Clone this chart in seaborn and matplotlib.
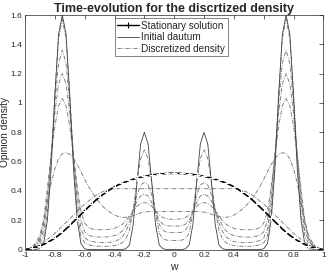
import numpy as np
import pandas as pd
import matplotlib
matplotlib.use("Agg")
import matplotlib.pyplot as plt
import seaborn as sns
from matplotlib.lines import Line2D

# grid of opinion values w
w = [-1.0, -0.975, -0.95, -0.925, -0.9, -0.875, -0.85, -0.825, -0.8, -0.775,
     -0.75, -0.725, -0.7, -0.675, -0.65, -0.625, -0.6, -0.575, -0.55, -0.525,
     -0.5, -0.475, -0.45, -0.425, -0.4, -0.375, -0.35, -0.325, -0.3, -0.275,
     -0.25, -0.225, -0.2, -0.175, -0.15, -0.125, -0.1, -0.075, -0.05, -0.025,
     0.0,
     0.025, 0.05, 0.075, 0.1, 0.125, 0.15, 0.175, 0.2, 0.225, 0.25,
     0.275, 0.3, 0.325, 0.35, 0.375, 0.4, 0.425, 0.45, 0.475, 0.5,
     0.525, 0.55, 0.575, 0.6, 0.625, 0.65, 0.675, 0.7, 0.725, 0.75,
     0.775, 0.8, 0.825, 0.85, 0.875, 0.9, 0.925, 0.95, 0.975, 1.0]

stationary = [0.0, 0.003, 0.009, 0.016, 0.025, 0.035, 0.048, 0.062, 0.078, 0.097,
              0.118, 0.14, 0.165, 0.19, 0.215, 0.24, 0.265, 0.29, 0.313, 0.337,
              0.358, 0.377, 0.395, 0.413, 0.428, 0.441, 0.452, 0.462, 0.471, 0.479,
              0.486, 0.493, 0.499, 0.504, 0.508, 0.512, 0.515, 0.517, 0.519, 0.52,
              0.52,
              0.52, 0.519, 0.517, 0.515, 0.512, 0.508, 0.504, 0.499, 0.493, 0.486,
              0.479, 0.471, 0.462, 0.452, 0.441, 0.428, 0.413, 0.395, 0.377, 0.358,
              0.337, 0.313, 0.29, 0.265, 0.24, 0.215, 0.19, 0.165, 0.14, 0.118,
              0.097, 0.078, 0.062, 0.048, 0.035, 0.025, 0.016, 0.009, 0.003, 0.0]

initial = [0.0, 0.0, 0.0, 0.002, 0.005, 0.04, 0.20, 0.55, 1.05, 1.47,
           1.60, 1.47, 1.05, 0.55, 0.20, 0.04, 0.005, 0.0, 0.0, 0.0,
           0.0, 0.0, 0.0, 0.0, 0.0, 0.0, 0.0, 0.005, 0.03, 0.17,
           0.45, 0.72, 0.80, 0.72, 0.45, 0.17, 0.03, 0.005, 0.0, 0.0,
           0.0,
           0.0, 0.0, 0.005, 0.03, 0.17, 0.45, 0.72, 0.80, 0.72, 0.45,
           0.17, 0.03, 0.005, 0.0, 0.0, 0.0, 0.0, 0.0, 0.0, 0.0,
           0.0, 0.0, 0.0, 0.005, 0.04, 0.20, 0.55, 1.05, 1.47, 1.60,
           1.47, 1.05, 0.55, 0.20, 0.04, 0.005, 0.002, 0.0, 0.0, 0.0]

disc_1 = [0.0, 0.005, 0.012, 0.025, 0.045, 0.09, 0.25, 0.60, 1.06, 1.44,
          1.57, 1.44, 1.06, 0.60, 0.25, 0.09, 0.045, 0.033, 0.027, 0.024,
          0.022, 0.022, 0.022, 0.024, 0.027, 0.033, 0.045, 0.07, 0.13, 0.27,
          0.46, 0.62, 0.68, 0.62, 0.46, 0.25, 0.11, 0.072, 0.064, 0.062,
          0.062,
          0.062, 0.064, 0.072, 0.11, 0.25, 0.46, 0.62, 0.68, 0.62, 0.46,
          0.27, 0.13, 0.07, 0.045, 0.033, 0.027, 0.024, 0.022, 0.022, 0.022,
          0.024, 0.027, 0.033, 0.045, 0.09, 0.25, 0.60, 1.06, 1.44, 1.57,
          1.44, 1.06, 0.60, 0.25, 0.09, 0.045, 0.025, 0.012, 0.005, 0.0]

disc_2 = [0.0, 0.006, 0.015, 0.03, 0.06, 0.13, 0.32, 0.64, 1.00, 1.27,
          1.36, 1.27, 1.00, 0.64, 0.32, 0.14, 0.08, 0.062, 0.055, 0.05,
          0.048, 0.047, 0.048, 0.05, 0.055, 0.065, 0.085, 0.12, 0.18, 0.27,
          0.37, 0.44, 0.458, 0.44, 0.37, 0.26, 0.17, 0.13, 0.118, 0.115,
          0.115,
          0.115, 0.118, 0.13, 0.17, 0.26, 0.37, 0.44, 0.458, 0.44, 0.37,
          0.27, 0.18, 0.12, 0.085, 0.065, 0.055, 0.05, 0.048, 0.047, 0.048,
          0.05, 0.055, 0.062, 0.08, 0.14, 0.32, 0.64, 1.00, 1.27, 1.36,
          1.27, 1.00, 0.64, 0.32, 0.13, 0.06, 0.03, 0.015, 0.006, 0.0]

disc_3 = [0.0, 0.007, 0.018, 0.035, 0.07, 0.17, 0.37, 0.65, 0.93, 1.13,
          1.20, 1.13, 0.93, 0.65, 0.38, 0.20, 0.12, 0.098, 0.09, 0.086,
          0.085, 0.085, 0.086, 0.09, 0.095, 0.105, 0.125, 0.16, 0.21, 0.27,
          0.33, 0.365, 0.378, 0.365, 0.32, 0.255, 0.20, 0.172, 0.163, 0.16,
          0.16,
          0.16, 0.163, 0.172, 0.20, 0.255, 0.32, 0.365, 0.378, 0.365, 0.33,
          0.27, 0.21, 0.16, 0.125, 0.105, 0.095, 0.09, 0.086, 0.085, 0.085,
          0.086, 0.09, 0.098, 0.12, 0.20, 0.38, 0.65, 0.93, 1.13, 1.20,
          1.13, 0.93, 0.65, 0.37, 0.17, 0.07, 0.035, 0.018, 0.007, 0.0]

disc_4 = [0.0, 0.008, 0.02, 0.04, 0.08, 0.20, 0.42, 0.64, 0.84, 0.98,
          1.03, 0.98, 0.84, 0.64, 0.43, 0.26, 0.18, 0.15, 0.14, 0.136,
          0.135, 0.135, 0.136, 0.14, 0.145, 0.155, 0.17, 0.195, 0.23, 0.265,
          0.295, 0.315, 0.32, 0.315, 0.295, 0.26, 0.235, 0.218, 0.21, 0.207,
          0.206,
          0.207, 0.21, 0.218, 0.235, 0.26, 0.295, 0.315, 0.32, 0.315, 0.295,
          0.265, 0.23, 0.195, 0.17, 0.155, 0.145, 0.14, 0.136, 0.135, 0.135,
          0.136, 0.14, 0.15, 0.18, 0.26, 0.43, 0.64, 0.84, 0.98, 1.03,
          0.98, 0.84, 0.64, 0.42, 0.20, 0.08, 0.04, 0.02, 0.008, 0.0]

disc_5 = [0.0, 0.005, 0.02, 0.05, 0.10, 0.20, 0.32, 0.45, 0.55, 0.62,
          0.655, 0.66, 0.65, 0.62, 0.58, 0.53, 0.48, 0.43, 0.39, 0.35,
          0.32, 0.29, 0.27, 0.25, 0.235, 0.225, 0.22, 0.22, 0.225, 0.23,
          0.24, 0.25, 0.255, 0.258, 0.26, 0.26, 0.26, 0.26, 0.259, 0.259,
          0.259,
          0.259, 0.259, 0.26, 0.26, 0.26, 0.26, 0.258, 0.255, 0.25, 0.24,
          0.23, 0.225, 0.22, 0.22, 0.225, 0.235, 0.25, 0.27, 0.29, 0.32,
          0.35, 0.39, 0.43, 0.48, 0.53, 0.58, 0.62, 0.65, 0.66, 0.655,
          0.62, 0.55, 0.45, 0.32, 0.20, 0.10, 0.05, 0.02, 0.005, 0.0]

disc_6 = [0.0, 0.003, 0.01, 0.02, 0.035, 0.05, 0.07, 0.09, 0.11, 0.135,
          0.16, 0.185, 0.21, 0.235, 0.26, 0.285, 0.31, 0.33, 0.35, 0.37,
          0.385, 0.397, 0.405, 0.41, 0.413, 0.415, 0.415, 0.415, 0.415, 0.415,
          0.415, 0.415, 0.415, 0.415, 0.415, 0.415, 0.415, 0.415, 0.415, 0.415,
          0.415,
          0.415, 0.415, 0.415, 0.415, 0.415, 0.415, 0.415, 0.415, 0.415, 0.415,
          0.415, 0.415, 0.415, 0.415, 0.415, 0.413, 0.41, 0.405, 0.397, 0.385,
          0.37, 0.35, 0.33, 0.31, 0.285, 0.26, 0.235, 0.21, 0.185, 0.16,
          0.135, 0.11, 0.09, 0.07, 0.05, 0.035, 0.02, 0.01, 0.003, 0.0]

x_ticks = [-1, -0.8, -0.6, -0.4, -0.2, 0, 0.2, 0.4, 0.6, 0.8, 1]
x_tick_labels = ["-1", "-0.8", "-0.6", "-0.4", "-0.2", "0", "0.2", "0.4", "0.6", "0.8", "1"]
y_ticks = [0, 0.2, 0.4, 0.6, 0.8, 1, 1.2, 1.4, 1.6]
y_tick_labels = ["0", "0.2", "0.4", "0.6", "0.8", "1", "1.2", "1.4", "1.6"]

sns.set_style("white")
plt.rcParams['font.family'] = ['Liberation Sans', 'DejaVu Sans']

fig = plt.figure(figsize=(3.27, 2.73), dpi=100)
ax = fig.add_axes([0.0765, 0.086, 0.9125, 0.859])

dash_style = (0, (5, 1.8, 1, 1.8))
disc_color = "#707070"
for series in [disc_1, disc_2, disc_3, disc_4, disc_5, disc_6]:
    sns.lineplot(x=w, y=series, ax=ax, color=disc_color, linewidth=0.6,
                 linestyle=dash_style, sort=False, legend=False)

sns.lineplot(x=w, y=initial, ax=ax, color="#404040", linewidth=0.6,
             sort=False, legend=False)
sns.lineplot(x=w, y=stationary, ax=ax, color="black", linewidth=1.2,
             marker="+", markersize=4, markeredgewidth=0.8, markevery=2,
             sort=False, legend=False)

ax.set_xlim(-1, 1)
ax.set_ylim(0, 1.6)
ax.set_xticks(x_ticks)
ax.set_xticklabels(x_tick_labels)
ax.set_yticks(y_ticks)
ax.set_yticklabels(y_tick_labels)
ax.tick_params(direction="in", length=3, width=0.5, labelsize=6,
               top=True, right=True, colors="#262626", pad=2)
for sp in ax.spines.values():
    sp.set_visible(True)
    sp.set_linewidth(0.5)
    sp.set_color("#262626")

ax.set_xlabel("w", fontsize=7.5, labelpad=2)
ax.set_ylabel("Opinion density", fontsize=7.3)
ax.yaxis.set_label_coords(-0.05, 0.5)
ax.set_title("Time-evolution for the discrtized density", fontsize=9,
             fontweight="bold", pad=2.5)

handles = [
    Line2D([], [], color="black", linewidth=1.0, marker="+", markersize=4,
           markeredgewidth=0.8),
    Line2D([], [], color="#404040", linewidth=0.6),
    Line2D([], [], color=disc_color, linewidth=0.6, linestyle=dash_style),
]
leg = ax.legend(handles, ["Stationary solution", "Initial dautum", "Discretized density"],
                loc="upper center", bbox_to_anchor=(0.49, 0.995), fontsize=7.2,
                frameon=True, fancybox=False, edgecolor="#262626",
                handlelength=2.2, handletextpad=0.2, borderpad=0.25,
                labelspacing=0.15, borderaxespad=0.2)
leg.get_frame().set_linewidth(0.5)

fig.savefig("out.png", dpi=100)
